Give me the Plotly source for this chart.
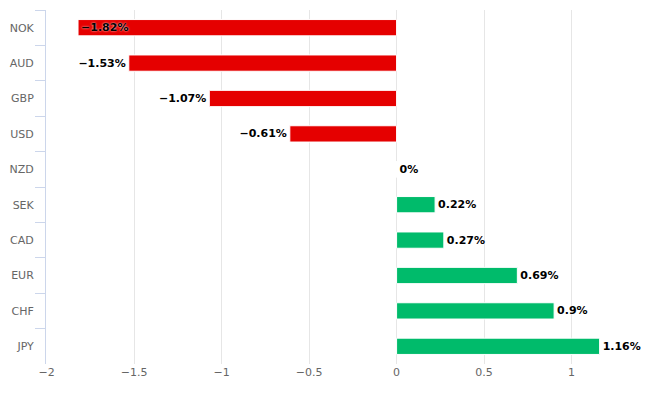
import plotly.graph_objects as go

currencies = ["NOK", "AUD", "GBP", "USD", "NZD", "SEK", "CAD", "EUR", "CHF", "JPY"]
changes = [-1.82, -1.53, -1.07, -0.61, 0.0, 0.22, 0.27, 0.69, 0.9, 1.16]
label_text = ["−1.82%", "−1.53%", "−1.07%", "−0.61%", "0%", "0.22%", "0.27%", "0.69%", "0.9%", "1.16%"]
x_ticks = [-2, -1.5, -1, -0.5, 0, 0.5, 1, 1.5]
x_tick_labels = ["−2", "−1.5", "−1", "−0.5", "0", "0.5", "1", "1.5"]

RED = "#e50000"
GREEN = "#00bb6b"
colors = [RED if v < 0 else GREEN for v in changes]
positions = ["inside" if v < -1.7 else "outside" for v in changes]

fig = go.Figure(go.Bar(
    x=changes,
    y=currencies,
    orientation="h",
    marker=dict(color=colors, line=dict(color="white", width=1)),
    text=label_text,
    textposition=positions,
    insidetextanchor="end",
    constraintext="none",
    cliponaxis=False,
    textfont=dict(family="DejaVu Sans", size=11, color="#000000", weight="bold",
                  shadow="0px 0px 2px white"),
    insidetextfont=dict(family="DejaVu Sans", size=11, color="#000000", weight="bold",
                        shadow="0px 0px 2px white"),
    outsidetextfont=dict(family="DejaVu Sans", size=11, color="#000000", weight="bold"),
    hoverinfo="skip",
))

fig.update_layout(
    width=646,
    height=399,
    margin=dict(l=46, r=0, t=10, b=35, autoexpand=False),
    plot_bgcolor="white",
    paper_bgcolor="white",
    bargap=0.54,
    showlegend=False,
    font=dict(family="DejaVu Sans", size=11, color="#666666"),
)

fig.update_xaxes(
    range=[-2.003, 1.425],
    tickvals=x_ticks,
    ticktext=x_tick_labels,
    showgrid=True,
    gridcolor="#e6e6e6",
    gridwidth=1,
    zeroline=True,
    zerolinecolor="#e6e6e6",
    zerolinewidth=1,
    showline=False,
    ticks="",
    automargin=False,
    tickfont=dict(size=11, color="#666666"),
)

fig.update_yaxes(
    autorange="reversed",
    showline=True,
    linecolor="#ccd6eb",
    linewidth=1,
    ticks="outside",
    tickson="boundaries",
    ticklen=10,
    tickcolor="#ccd6eb",
    ticklabelstandoff=9,
    showgrid=False,
    automargin=False,
    tickfont=dict(size=11, color="#666666"),
)

fig.write_html(
    "out.html",
    config={"displayModeBar": False, "staticPlot": True},
    post_script="document.body.style.margin='0';document.body.style.overflow='hidden';",
)
